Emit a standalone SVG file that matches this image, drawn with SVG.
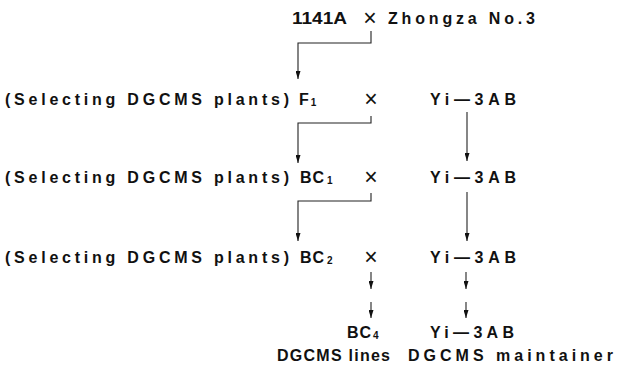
<svg xmlns="http://www.w3.org/2000/svg" width="619" height="369" viewBox="0 0 619 369">
<defs>
<marker id="arr" markerUnits="userSpaceOnUse" markerWidth="5" markerHeight="8" refX="2.5" refY="8" orient="0" viewBox="0 0 5 8">
<path d="M0,0 L5,0 L2.5,8 Z" fill="#111"/>
</marker>
<style>
text{font-family:"Liberation Sans","DejaVu Sans",sans-serif;font-weight:bold;font-size:16px;fill:#111}
.x{font-weight:normal;font-size:23px;text-anchor:middle}
.sub{font-size:10px}
.c{fill:none;stroke:#222;stroke-width:1.1}
.a{marker-end:url(#arr)}
</style>
</defs>
<rect width="619" height="369" fill="#fff"/>
<g id="connectors">
<path class="c a" d="M371,31 V43 H298 V79"/>
<path class="c a" d="M371,116 V123 H298 V163"/>
<path class="c a" d="M371,193 V201 H298 V241"/>
<path class="c a" d="M467,112 V161"/>
<path class="c a" d="M467,192 V241"/>
<path class="c a" d="M371,272 V289"/>
<path class="c a" d="M371,302 V318"/>
<path class="c a" d="M466,272 V289"/>
<path class="c a" d="M466,302 V318"/>
</g>
<g id="n-1141A"><text x="292" y="24" textLength="55" lengthAdjust="spacingAndGlyphs">1141A</text></g>
<g id="n-cross1"><text class="x" x="370" y="26">×</text></g>
<g id="n-zhongza"><text x="388" y="24" textLength="147" lengthAdjust="spacing">Zhongza No.3</text></g>
<g id="n-sel1"><text x="5" y="105" textLength="284" lengthAdjust="spacing">(Selecting DGCMS plants)</text></g>
<g id="n-F1"><text x="299" y="105">F<tspan class="sub" dx="2" dy="1">1</tspan></text></g>
<g id="n-cross2"><text class="x" x="371" y="107">×</text></g>
<g id="n-yi1"><text x="430" y="105" textLength="86" lengthAdjust="spacing">Yi—3AB</text></g>
<g id="n-sel2"><text x="5" y="183" textLength="284" lengthAdjust="spacing">(Selecting DGCMS plants)</text></g>
<g id="n-BC1"><text x="300" y="183" textLength="24" lengthAdjust="spacing">BC</text><text class="sub" x="327" y="184">1</text></g>
<g id="n-cross3"><text class="x" x="371" y="185">×</text></g>
<g id="n-yi2"><text x="430" y="183" textLength="86" lengthAdjust="spacing">Yi—3AB</text></g>
<g id="n-sel3"><text x="5" y="263" textLength="284" lengthAdjust="spacing">(Selecting DGCMS plants)</text></g>
<g id="n-BC2"><text x="300" y="263" textLength="24" lengthAdjust="spacing">BC</text><text class="sub" x="327" y="264">2</text></g>
<g id="n-cross4"><text class="x" x="371" y="265">×</text></g>
<g id="n-yi3"><text x="430" y="263" textLength="86" lengthAdjust="spacing">Yi—3AB</text></g>
<g id="n-BC4"><text x="347" y="338" textLength="24" lengthAdjust="spacing">BC</text><text class="sub" x="373" y="339">4</text></g>
<g id="n-yi4"><text x="430" y="338" textLength="84" lengthAdjust="spacing">Yi—3AB</text></g>
<g id="n-lines"><text x="277" y="361" textLength="113" lengthAdjust="spacing">DGCMS lines</text></g>
<g id="n-maint"><text x="408" y="361" textLength="205" lengthAdjust="spacing">DGCMS maintainer</text></g>
</svg>
